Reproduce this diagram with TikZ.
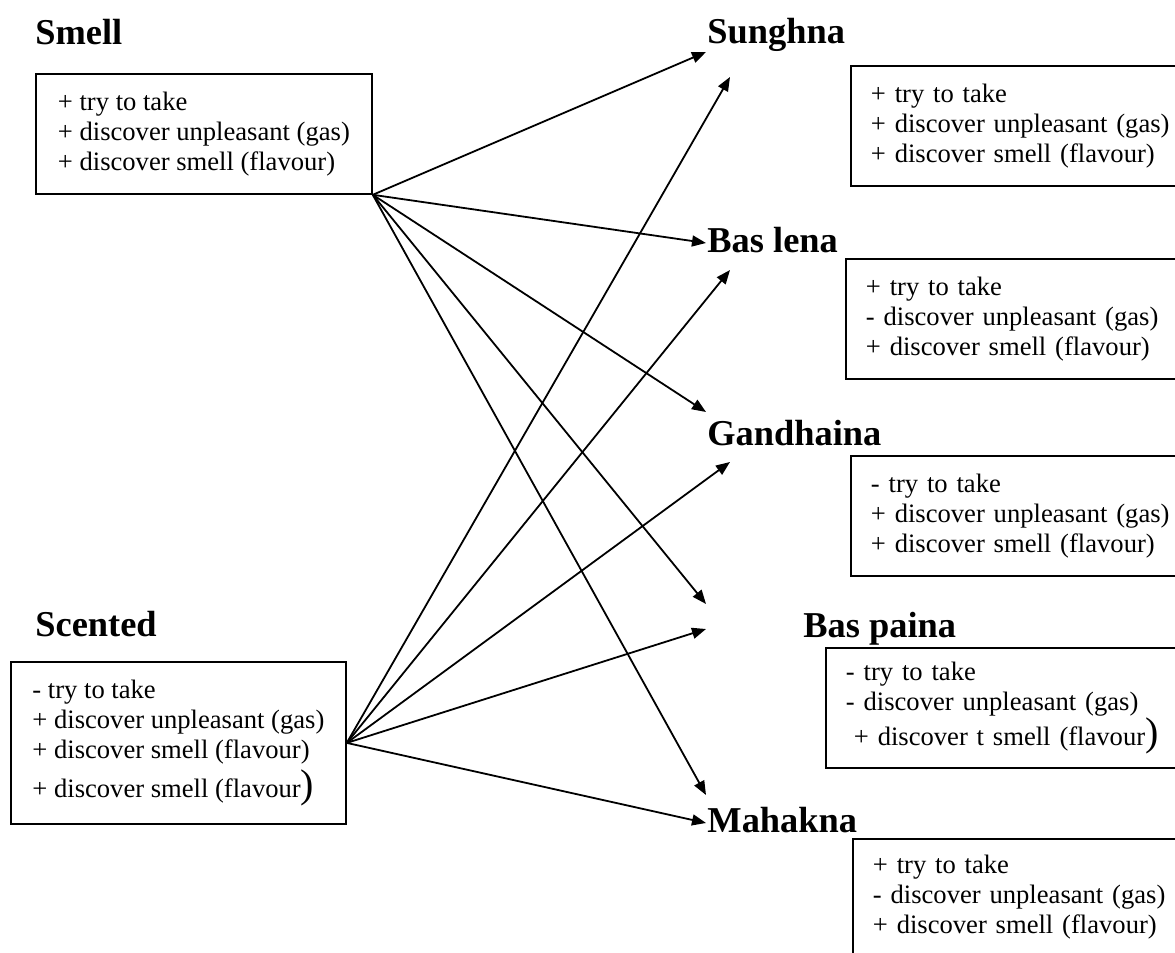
\documentclass[tikz,border=0pt]{standalone}
\usepackage{fontspec}
\setmainfont{Liberation Serif}
\usepackage{tikz}
\usetikzlibrary{arrows.meta}
\newcommand{\bigparen}{{\fontsize{20}{20}\selectfont)}}

\begin{document}
\begin{tikzpicture}[x=0.5pt,y=-0.5pt,
    head/.style={font=\fontsize{18.2}{22}\selectfont\bfseries, anchor=base west, inner sep=0pt},
    box/.style={draw, line width=0.9pt, anchor=north west, align=left, inner xsep=10pt,
        minimum height=60pt, font=\fontsize{13.3}{15}\selectfont},
    arr/.style={line width=0.9pt, -{Triangle[length=7pt,width=5.5pt]}}]
        % page
        \clip (0,0) rectangle (1175,953);

        % left side
        \node[head] (smell) at (35,44) {Smell};
        \node[box, minimum width=168pt] (smellbox) at (35,73)
            {+ try to take\\+ discover unpleasant (gas)\\+ discover smell (flavour)};
        \node[head] (scented) at (35,636) {Scented};
        \node[box, minimum width=167.5pt, minimum height=81pt] (scentedbox) at (10,661)
            {- try to take\\+ discover unpleasant (gas)\\+ discover smell (flavour)\\[2pt]+ discover smell (flavour\bigparen};

        % right side
        \node[head] (sunghna) at (707,43) {Sunghna};
        \node[box, text width=180pt] (sunghnabox) at (850,65)
            {+ try to take\\+ discover unpleasant (gas)\\+ discover smell (flavour)};
        \node[head] (baslena) at (707,252) {Bas lena};
        \node[box, text width=180pt] (baslenabox) at (845,258)
            {+ try to take\\- discover unpleasant (gas)\\+ discover smell (flavour)};
        \node[head] (gandhaina) at (707,445) {Gandhaina};
        \node[box, text width=180pt] (gandhainabox) at (850,455)
            {- try to take\\+ discover unpleasant (gas)\\+ discover smell (flavour)};
        \node[head] (baspaina) at (803,637) {Bas paina};
        \node[box, text width=180pt] (baspainabox) at (825,647)
            {- try to take\\- discover unpleasant (gas)\\\hspace{4pt}+ discover t smell (flavour\bigparen};
        \node[head] (mahakna) at (707,832) {Mahakna};
        \node[box, text width=180pt, inner ysep=8pt] (mahaknabox) at (852,838)
            {+ try to take\\- discover unpleasant (gas)\\+ discover smell (flavour)\\ \strut\\ \strut};

        % arrow tips
        \coordinate (sunA) at (706,52);  \coordinate (sunB) at (730,77);
        \coordinate (lenA) at (706,243); \coordinate (lenB) at (730,270);
        \coordinate (ganA) at (706,412); \coordinate (ganB) at (730,462);
        \coordinate (paiA) at (706,604); \coordinate (paiB) at (706,629);
        \coordinate (mahA) at (706,795); \coordinate (mahB) at (706,823);

        % arrows
        \foreach \t in {sunA,lenA,ganA,paiA,mahA}
        \draw[arr] (smellbox.south east) -- (\t);
        \foreach \t in {sunB,lenB,ganB,paiB,mahB}
        \draw[arr] (scentedbox.east) -- (\t);
\end{tikzpicture}
\end{document}
